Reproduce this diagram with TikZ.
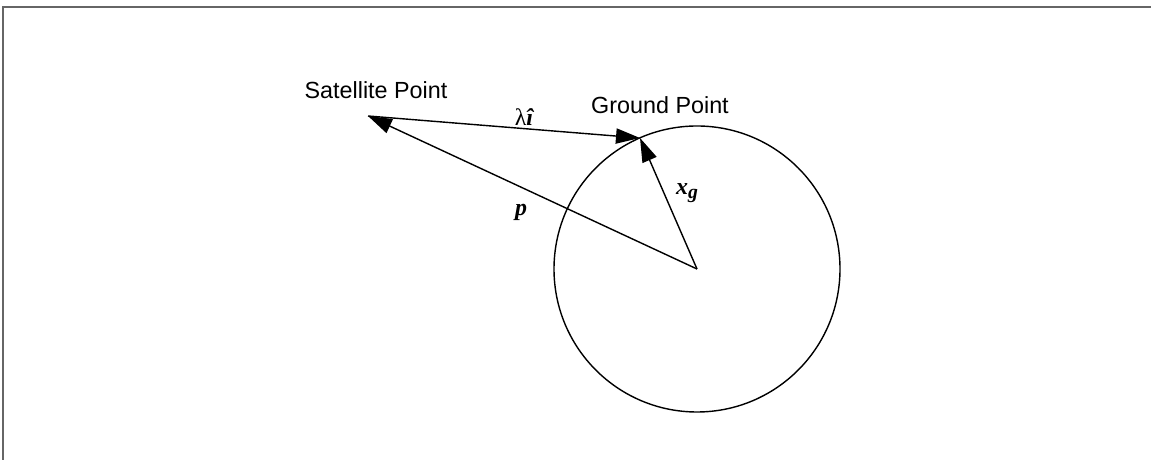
\documentclass[tikz,border=0pt]{standalone}
\usepackage{fontspec}
\setmainfont{Liberation Sans}
\newfontfamily\symfont{Liberation Serif}
\usepackage{tikz}
\usetikzlibrary{arrows.meta,positioning,calc}

\begin{document}
\begin{tikzpicture}[>={Triangle[length=6mm,width=3.8mm]}, line width=1pt,
  vec/.style={->, shorten >=0pt},
  lbl/.style={font=\fontsize{16.6}{18}\selectfont, inner sep=0pt},
  sym/.style={font=\fontsize{17}{18}\selectfont\symfont\bfseries\itshape, inner sep=0pt}]
\useasboundingbox (0,0) rectangle (28.775,11.5);
% frame
\draw[gray!80!black, line width=1.2pt] (0.075,0) -- (0.075,11.325) -- (28.775,11.325);
% earth
\coordinate (center) at (17.425,4.775);
\node[draw, circle, minimum size=7.15cm, inner sep=0pt] (earth) at (center) {};
\coordinate (sat) at (9.2,8.6);
\coordinate (gnd) at (16.0,8.05);
% vectors
\draw[vec] (center) -- (sat);
\draw[vec] (center) -- (gnd);
\draw[vec] (sat) -- (gnd);
% labels
\node[lbl] (satlabel) at (9.4,9.25) {Satellite Point};
\node[lbl] (gndlabel) at (16.5,8.875) {Ground Point};
\node[sym] (look) at (13.1,8.575) {{\mdseries\upshape λ}î};
\node[sym] (xg) at (17.175,6.675) {x\raisebox{-0.35ex}{\fontsize{14}{16}\selectfont g}};
\node[sym] (pos) at (13.025,6.2) {p};
\end{tikzpicture}
\end{document}
